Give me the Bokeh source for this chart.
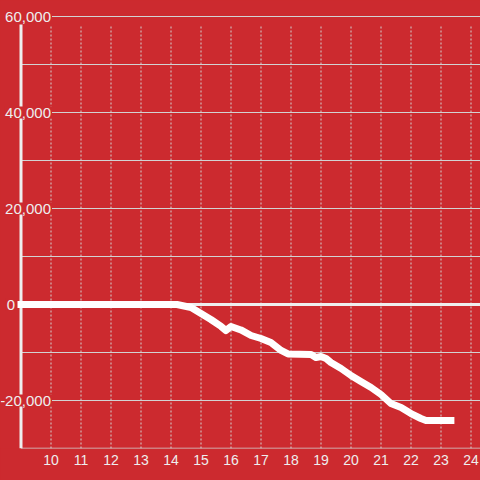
from bokeh.plotting import figure
from bokeh.models import ColumnDataSource, FixedTicker, Range1d
from bokeh.core.properties import value
from bokeh.embed import file_html
from bokeh.resources import INLINE

# ---- data ----
hours = [9.0, 14.2, 14.67, 15.0, 15.33, 15.67, 15.83, 16.0, 16.33, 16.67, 17.0,
         17.33, 17.67, 17.9, 18.67, 18.83, 19.0, 19.17, 19.33, 19.67, 20.0,
         20.33, 20.67, 21.0, 21.33, 21.67, 22.0, 22.33, 22.5, 23.33]
values = [0, 0, -625, -1875, -3125, -4580, -5420, -4580, -5300, -6460, -7080,
          -7920, -9580, -10300, -10420, -11040, -10830, -11250, -12080, -13330, -14790,
          -16040, -17290, -18750, -20630, -21460, -22710, -23750, -24170, -24170]
x_ticks = list(range(10, 25))
y_label_values = [60000, 40000, 20000, 0, -20000]
y_grid_values = [60000, 50000, 40000, 30000, 20000, 10000, -10000, -20000]
y_min = -30000
y_axis_top = 58333
x_axis_pos = 9.0

# ---- style ----
RED = "#cc2a2f"
GRID = "#d2d2d2"
LIGHT = "#eeeeee"
FONT = "Liberation Sans"
label_offsets = [31, 31, 31, -5, 31]

x_start = x_axis_pos - 20.5 / 30
x_end = x_start + 480 / 30
y_end = y_min + 448 / 48 * 10000

p = figure(width=480, height=480, output_backend="svg", toolbar_location=None,
           x_range=Range1d(x_start, x_end), y_range=Range1d(y_min, y_end),
           y_axis_location=None, min_border_left=0, min_border_right=0,
           min_border_top=0, min_border_bottom=32)
p.background_fill_color = RED
p.border_fill_color = RED
p.outline_line_color = None
p.xgrid.grid_line_color = None
p.ygrid.grid_line_color = None

ax = p.xaxis[0]
ax.ticker = FixedTicker(ticks=x_ticks)
ax.axis_line_color = None
ax.major_tick_line_color = None
ax.minor_tick_line_color = None
ax.major_tick_out = 0
ax.major_tick_in = 0
ax.major_label_standoff = 6
ax.major_label_text_font = FONT
ax.major_label_text_font_size = "14px"
ax.major_label_text_color = LIGHT

# horizontal grid lines
p.segment(x0=[x_axis_pos] * len(y_grid_values), y0=y_grid_values,
          x1=[x_end] * len(y_grid_values), y1=y_grid_values,
          line_color=GRID, line_width=1)
# bottom axis line
p.segment(x0=[x_axis_pos], y0=[y_min], x1=[x_end], y1=[y_min],
          line_color=GRID, line_width=1.5)
# vertical dotted grid lines
p.segment(x0=x_ticks, y0=[y_min] * len(x_ticks), x1=x_ticks, y1=[y_axis_top] * len(x_ticks),
          line_color=GRID, line_width=1, line_dash="2 2")
# zero line
p.segment(x0=[x_axis_pos - 0.1], y0=[0], x1=[x_end], y1=[0],
          line_color=LIGHT, line_width=3)
# y axis line
p.segment(x0=[x_axis_pos], y0=[y_min], x1=[x_axis_pos], y1=[y_axis_top],
          line_color=LIGHT, line_width=3)

# data line
src = ColumnDataSource(dict(x=hours, y=values))
p.line("x", "y", source=src, line_color="white", line_width=7,
       line_join="round", line_cap="square")

# y labels
lab = ColumnDataSource(dict(
    x=[x_axis_pos] * len(y_label_values), y=y_label_values,
    text=[f"{v:,}" for v in y_label_values], xoff=label_offsets))
p.text("x", "y", text="text", source=lab, x_offset="xoff",
       text_font=value(FONT), text_font_size="15px", text_color=LIGHT,
       text_align="right", text_baseline="middle",
       background_fill_color=RED, padding=1)

html = file_html(p, INLINE)
html = html.replace("</head>",
                    "<style>html,body{margin:0;padding:0;background:%s;overflow:hidden;}</style></head>" % RED, 1)
open("out.html", "w").write(html)
